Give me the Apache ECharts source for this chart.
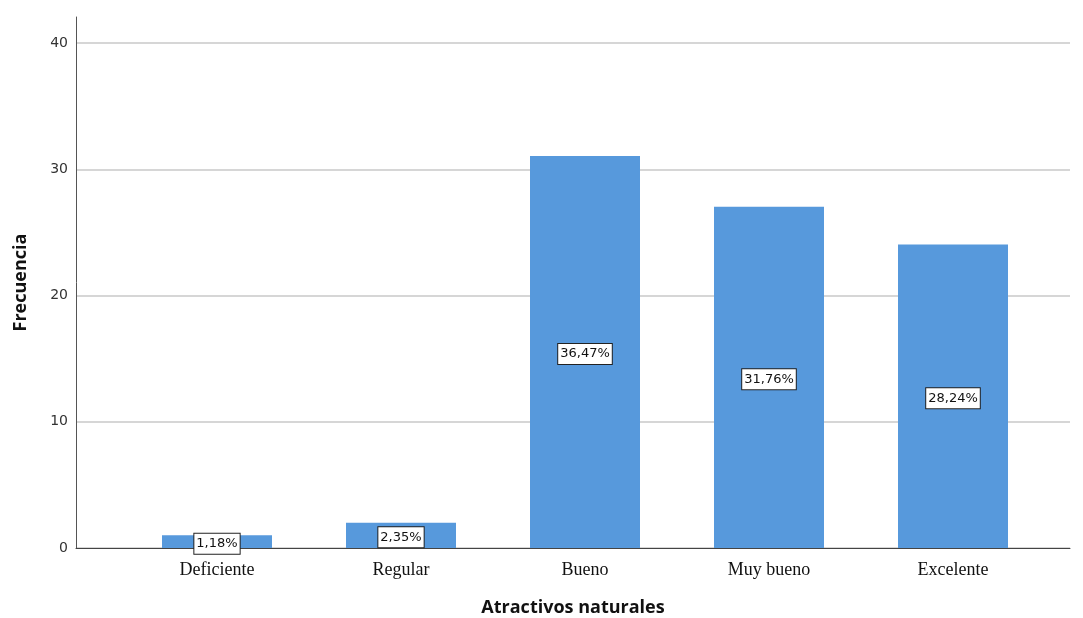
<!DOCTYPE html>
<html>
<head>
<meta charset="utf-8">
<script src="https://cdn.jsdelivr.net/npm/echarts@6/dist/echarts.min.js"></script>
<style>
  html, body { margin: 0; padding: 0; background: #fff; }
  #chart { width: 1083px; height: 618px; }
</style>
</head>
<body>
<div id="chart"></div>
<script>
// data
const categories = ['Deficiente', 'Regular', 'Bueno', 'Muy bueno', 'Excelente'];
const counts = [1, 2, 31, 27, 24];
const pctLabels = ['1,18%', '2,35%', '36,47%', '31,76%', '28,24%'];
const yTicks = [0, 10, 20, 30, 40];

const chart = echarts.init(document.getElementById('chart'));

const noBounds = { outerBoundsMode: 'none', containLabel: false };
const titleFont = { fontFamily: 'Open Sans', fontWeight: 'bold', fontSize: 18, color: '#111' };

chart.setOption({
  animation: false,
  grid: [
    // gridlines, tick labels and baseline (0..40)
    Object.assign({ left: 76, right: 13, top: 43, bottom: 70 }, noBounds),
    // bars and category labels (0..42)
    Object.assign({ left: 125, right: 38, top: 17, bottom: 70 }, noBounds),
    // full-height vertical axis line + axis name
    Object.assign({ left: 76, right: 13, top: 17, bottom: 70 }, noBounds)
  ],
  xAxis: [
    {
      gridIndex: 0, type: 'value', min: 0, max: 1,
      axisLabel: { show: false }, axisTick: { show: false }, splitLine: { show: false },
      axisLine: { show: true, lineStyle: { color: '#444', width: 1 } },
      name: 'Atractivos naturales', nameLocation: 'middle', nameGap: 51,
      nameTextStyle: titleFont
    },
    {
      gridIndex: 1, type: 'category', data: categories,
      axisLine: { show: false }, axisTick: { show: false },
      axisLabel: { margin: 13, fontFamily: 'Liberation Serif', fontSize: 18, color: '#111' }
    },
    { gridIndex: 2, type: 'value', min: 0, max: 1, show: false }
  ],
  yAxis: [
    {
      gridIndex: 0, type: 'value', min: 0, max: 40, interval: 10,
      axisLine: { show: false }, axisTick: { show: false },
      axisLabel: {
        fontFamily: 'DejaVu Sans', fontSize: 14, color: '#333', margin: 8,
        formatter: v => yTicks.includes(v) ? String(v) : ''
      },
      splitLine: { show: true, lineStyle: { color: '#c8c8c8', width: 1.5 } }
    },
    { gridIndex: 1, type: 'value', min: 0, max: 42, show: false },
    {
      gridIndex: 2, type: 'value', min: 0, max: 1,
      axisLine: { show: true, lineStyle: { color: '#555', width: 1 } },
      axisTick: { show: false }, axisLabel: { show: false }, splitLine: { show: false },
      name: 'Frecuencia', nameLocation: 'middle', nameGap: 46, nameRotate: 90,
      nameTextStyle: titleFont
    }
  ],
  series: [
    {
      type: 'bar', xAxisIndex: 1, yAxisIndex: 1,
      data: counts, barWidth: 110,
      itemStyle: { color: '#5799dc' },
      label: {
        show: true, position: 'inside', offset: [0, 2],
        formatter: p => pctLabels[p.dataIndex],
        fontFamily: 'DejaVu Sans', fontSize: 13, color: '#111',
        backgroundColor: '#fff', borderColor: '#222', borderWidth: 1,
        padding: [4, 2, 3, 2]
      }
    }
  ]
});
</script>
</body>
</html>
